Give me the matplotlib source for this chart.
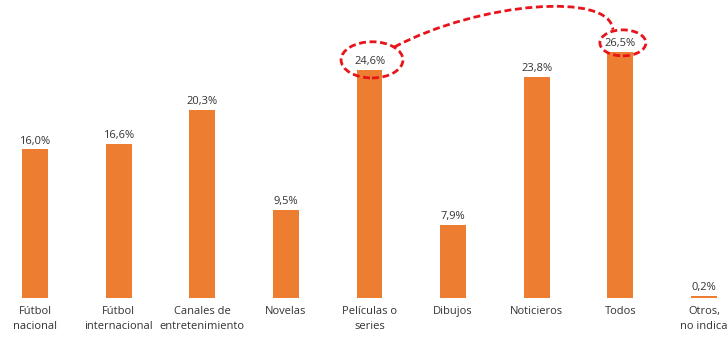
import matplotlib.pyplot as plt
from matplotlib.patches import Ellipse, PathPatch
from matplotlib.path import Path

categorias = ["Fútbol\nnacional", "Fútbol\ninternacional", "Canales de\nentretenimiento",
              "Novelas", "Películas o\nseries", "Dibujos", "Noticieros", "Todos",
              "Otros,\nno indica"]
valores = [16.0, 16.6, 20.3, 9.5, 24.6, 7.9, 23.8, 26.5, 0.2]

naranja = "#ED7D31"
gris = "#333333"
rojo = "#E8141B"

plt.rcParams["font.family"] = ["Open Sans", "DejaVu Sans"]

fig = plt.figure(figsize=(7.27, 3.38), dpi=100)
ax = fig.add_axes([0, 40 / 338, 1, 298 / 338])

x = list(range(len(valores)))
ax.bar(x, valores, width=0.31, color=naranja)

for i, v in zip(x, valores):
    ax.annotate(f"{v:.1f}%".replace(".", ","), (i, v), xytext=(0, 2),
                textcoords="offset points", ha="center", va="bottom",
                fontsize=8, color=gris)

ax.set_xlim(-0.4185, 8.275)
ax.set_ylim(0, 32.1)
ax.set_xticks(x)
ax.set_xticklabels(categorias, fontsize=8, color=gris, linespacing=1.5)
ax.tick_params(axis="x", length=0, pad=6)
ax.set_yticks([])
for s in ax.spines.values():
    s.set_visible(False)

# resaltar Películas vs Todos
estilo = dict(fill=False, ec=rojo, lw=2.0, ls=(0, (2.5, 1.3)), clip_on=False)
for i, dy, w, h in [(4, 1.05, 0.74, 3.9), (7, 0.98, 0.55, 2.8)]:
    ax.add_patch(Ellipse((i + 0.03, valores[i] + dy), w, h, **estilo))

curva = Path([(4.30, 27.05), (5.32, 31.9), (6.88, 33.0), (6.91, 28.9)],
             [Path.MOVETO, Path.CURVE4, Path.CURVE4, Path.CURVE4])
ax.add_patch(PathPatch(curva, **estilo))

fig.savefig("out.png", dpi=100)
